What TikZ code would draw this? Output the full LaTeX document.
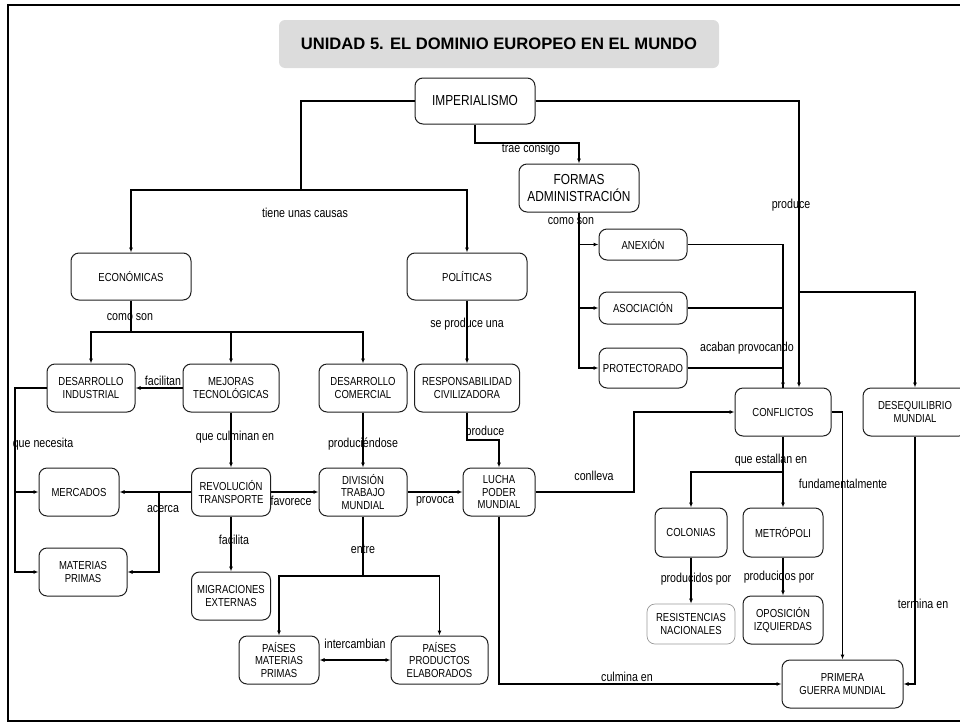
\documentclass[tikz,border=0pt]{standalone}
\usepackage{fontspec}
\setmainfont[FakeStretch=0.82]{Liberation Sans}
\newfontfamily\titlefont{Liberation Sans}
\usetikzlibrary{arrows.meta}
\definecolor{titlegray}{RGB}{220,220,220}
\definecolor{boxline}{RGB}{30,30,30}

\begin{document}
\begin{tikzpicture}[x=1pt, y=-1pt, line width=1.3pt,
    >={Latex[length=5pt,width=4pt]},
    box/.style={draw=boxline, line width=1pt, rounded corners=8pt, align=center,
      inner sep=0pt, font=\fontsize{11.6}{12.8}\selectfont},
    bigbox/.style={box, font=\fontsize{14.5}{16.3}\selectfont},
    lbl/.style={inner sep=0pt, font=\fontsize{13}{15}\selectfont},
    titlebox/.style={fill=titlegray, rounded corners=6pt, minimum width=440pt,
      minimum height=48pt, font={\titlefont\bfseries\fontsize{16.6}{18}\selectfont}}]
  \useasboundingbox (0,0) rectangle (960,723);
  \draw[line width=2.5pt] (8,5) rectangle (966,721);

  \node[titlebox] (title) at (499,44) {UNIDAD 5. EL DOMINIO EUROPEO EN EL MUNDO};

  % boxes
  \node[bigbox, minimum width=120pt, minimum height=46pt] (imp) at (475,101) {IMPERIALISMO};
  \node[bigbox, minimum width=120pt, minimum height=48pt] (formas) at (579,188) {FORMAS\\ADMINISTRACIÓN};
  \node[box, minimum width=120pt, minimum height=47pt] (econ) at (131,276.5) {ECONÓMICAS};
  \node[box, minimum width=120pt, minimum height=47pt] (pol) at (467,276.5) {POLÍTICAS};
  \node[box, minimum width=88pt, minimum height=31pt] (anex) at (643,244.5) {ANEXIÓN};
  \node[box, minimum width=88pt, minimum height=32pt] (asoc) at (643,308) {ASOCIACIÓN};
  \node[box, minimum width=88pt, minimum height=40pt] (prot) at (643,368) {PROTECTORADO};
  \node[box, minimum width=88pt, minimum height=48pt] (desind) at (91,388) {DESARROLLO\\INDUSTRIAL};
  \node[box, minimum width=96pt, minimum height=48pt] (mejoras) at (231,388) {MEJORAS\\TECNOLÓGICAS};
  \node[box, minimum width=88pt, minimum height=48pt] (descom) at (363,388) {DESARROLLO\\COMERCIAL};
  \node[box, minimum width=105pt, minimum height=48pt] (resp) at (467,388) {RESPONSABILIDAD\\CIVILIZADORA};
  \node[box, minimum width=96pt, minimum height=48pt] (confl) at (783,412) {CONFLICTOS};
  \node[box, minimum width=104pt, minimum height=48pt] (deseq) at (915,412) {DESEQUILIBRIO\\MUNDIAL};
  \node[box, minimum width=80pt, minimum height=48pt] (merc) at (79,492) {MERCADOS};
  \node[box, minimum width=79pt, minimum height=48pt] (revol) at (231,492) {REVOLUCIÓN\\TRANSPORTE};
  \node[box, minimum width=88pt, minimum height=48pt] (div) at (363,492) {DIVISIÓN\\TRABAJO\\MUNDIAL};
  \node[box, minimum width=72pt, minimum height=48pt] (lucha) at (499,492) {LUCHA\\PODER\\MUNDIAL};
  \node[box, minimum width=88pt, minimum height=48pt] (matprim) at (83,572) {MATERIAS\\PRIMAS};
  \node[box, minimum width=79pt, minimum height=48pt] (migr) at (231,596) {MIGRACIONES\\EXTERNAS};
  \node[box, minimum width=72pt, minimum height=49pt] (colonias) at (691,532.5) {COLONIAS};
  \node[box, minimum width=80pt, minimum height=49pt] (metro) at (783,532.5) {METRÓPOLI};
  \node[box, draw=gray!80, line width=0.7pt, minimum width=88pt, minimum height=40pt] (resist) at (691,624) {RESISTENCIAS\\NACIONALES};
  \node[box, minimum width=80pt, minimum height=48pt] (opos) at (783,620) {OPOSICIÓN\\IZQUIERDAS};
  \node[box, minimum width=80pt, minimum height=48pt] (paismat) at (279,660) {PAÍSES\\MATERIAS\\PRIMAS};
  \node[box, minimum width=97pt, minimum height=48pt] (paisprod) at (439.5,660) {PAÍSES\\PRODUCTOS\\ELABORADOS};
  \node[box, minimum width=121pt, minimum height=48pt] (primera) at (842.5,684) {PRIMERA\\GUERRA MUNDIAL};

  % junctions
  \coordinate (causas) at (301,190);
  \coordinate (trae) at (579,143);
  \coordinate (deseqsplit) at (799,292);
  \coordinate (econsplit) at (131,332);
  \coordinate (respbend) at (499,440);
  \coordinate (needsplit) at (15,572);
  \coordinate (acercasplit) at (159,492);
  \coordinate (entresplit) at (363,576);
  \coordinate (conllbend) at (634,492);
  \coordinate (estallsplit) at (783,472);

  % connectors
  \draw (imp) -| (causas);
  \draw[->] (causas) -| (econ);
  \draw[->] (causas) -| (pol);
  \draw[->] (imp) |- (trae) -- (formas);
  \draw[->] (imp) -| ([xshift=16pt]confl.north);
  \draw[->] (deseqsplit) -| (deseq);
  \draw[->] (formas) |- (anex);
  \draw[->] (formas) |- (asoc);
  \draw[->] (formas) |- (prot);
  \draw[->] (anex) -| (confl);
  \draw (asoc) -| (confl);
  \draw (prot) -| (confl);
  \draw[->] (pol) -- (resp);
  \draw (econ) -- (econsplit);
  \draw[->] (econsplit) -| (desind);
  \draw[->] (econsplit) -| (mejoras);
  \draw[->] (econsplit) -| (descom);
  \draw[->] (mejoras) -- (desind);
  \draw[->] (mejoras) -- (revol);
  \draw[->] (descom) -- (div);
  \draw[->] (resp) |- (respbend) -- (lucha);
  \draw[->] (desind) -| (needsplit) -- (matprim);
  \draw[->] (needsplit |- merc) -- (merc);
  \draw[->] (revol) -- (merc);
  \draw[->] (acercasplit) |- (matprim);
  \draw[->] (revol) -- (div);
  \draw[->] (div) -- (lucha);
  \draw[->] (revol) -- (migr);
  \draw (div) -- (entresplit);
  \draw[->] (entresplit) -| (paismat);
  \draw[->] (entresplit) -| (paisprod);
  \draw[<->] (paismat) -- (paisprod);
  \draw[->] (lucha) -- (conllbend) |- (confl);
  \draw[->] (lucha) |- (primera);
  \draw[->] (confl) -- (metro);
  \draw[->] (estallsplit) -| (colonias);
  \draw[->] (confl) -| (primera);
  \draw[->] (colonias) -- (resist);
  \draw[->] (metro) -- (opos);
  \draw[->] (deseq) |- (primera);

  % labels
  \node[lbl] (l1) at (305,213) {tiene unas causas};
  \node[lbl] (l2) at (531,149) {trae consigo};
  \node[lbl] (l3) at (791,205) {produce};
  \node[lbl] (l4) at (571,221) {como son};
  \node[lbl] (l5) at (130,317) {como son};
  \node[lbl] (l6) at (467,324) {se produce una};
  \node[lbl] (l7) at (747,348) {acaban provocando};
  \node[lbl] (l8) at (163,381) {facilitan};
  \node[lbl] (l9) at (235,437) {que culminan en};
  \node[lbl] (l10) at (363,444) {produciéndose};
  \node[lbl] (l11) at (485,432) {produce};
  \node[lbl] (l12) at (43,444) {que necesita};
  \node[lbl] (l13) at (163,509) {acerca};
  \node[lbl] (l14) at (291,501) {favorece};
  \node[lbl] (l15) at (435,501) {provoca};
  \node[lbl] (l16) at (234,540) {facilita};
  \node[lbl] (l17) at (363,549) {entre};
  \node[lbl] (l18) at (355,644) {intercambian};
  \node[lbl] (l19) at (594,476) {conlleva};
  \node[lbl] (l20) at (627,677) {culmina en};
  \node[lbl] (l21) at (771,460) {que estallan en};
  \node[lbl] (l22) at (843,484) {fundamentalmente};
  \node[lbl] (l23) at (696,579) {producidos por};
  \node[lbl] (l24) at (779,577) {producidos por};
  \node[lbl] (l25) at (923,604) {termina en};
\end{tikzpicture}
\end{document}
